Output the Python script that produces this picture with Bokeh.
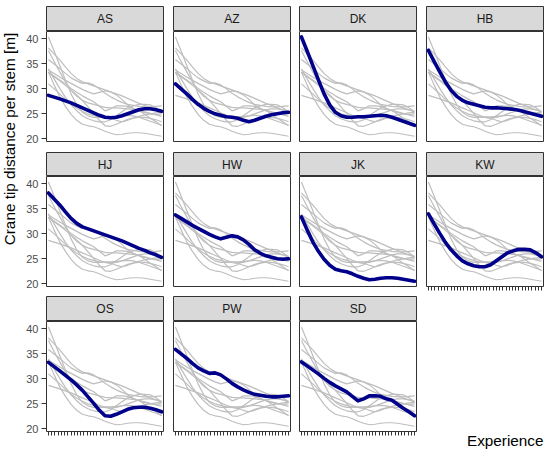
import math
from bokeh.plotting import figure
from bokeh.layouts import row, column
from bokeh.models import Range1d, FixedTicker, Label, CustomJSTickFormatter
from bokeh.embed import file_html
from bokeh.resources import INLINE

# ---- data ----
experience = [1, 2.75, 4.5, 6.25, 8, 9.75, 11.5, 13.25, 15, 16.75, 18.5,
              20.25, 22, 23.75, 25.5, 27.25, 29, 30.75, 32.5, 34.25, 36]
operators = ["AS", "AZ", "DK", "HB", "HJ", "HW", "JK", "KW", "OS", "PW", "SD"]

as_vals = [28.7, 28.35, 28.0, 27.6, 27.2, 26.7, 26.2, 25.7, 25.2, 24.7, 24.3,
           24.2, 24.3, 24.6, 25.0, 25.4, 25.8, 26.0, 26.0, 25.8, 25.5]
az_vals = [31.0, 30.0, 29.0, 27.9, 26.9, 26.1, 25.5, 25.0, 24.7, 24.4, 24.3,
           24.1, 23.7, 23.4, 23.7, 24.1, 24.5, 24.8, 25.0, 25.2, 25.3]
dk_vals = [40.4, 37.6, 34.7, 31.8, 29.0, 26.8, 25.3, 24.6, 24.3, 24.3, 24.4,
           24.4, 24.5, 24.6, 24.7, 24.6, 24.3, 23.9, 23.5, 23.1, 22.7]
hb_vals = [37.7, 35.5, 33.4, 31.4, 29.7, 28.5, 27.7, 27.2, 26.9, 26.6, 26.3,
           26.2, 26.2, 26.1, 26.0, 25.9, 25.7, 25.4, 25.1, 24.8, 24.5]
hj_vals = [38.2, 37.0, 35.8, 34.4, 33.1, 32.1, 31.4, 31.0, 30.6, 30.2, 29.8,
           29.4, 29.0, 28.6, 28.1, 27.6, 27.1, 26.7, 26.2, 25.8, 25.3]
hw_vals = [33.8, 33.1, 32.4, 31.7, 31.1, 30.5, 29.9, 29.4, 29.0, 29.3, 29.6,
           29.4, 28.8, 27.9, 26.8, 26.1, 25.6, 25.3, 25.0, 24.9, 25.0]
jk_vals = [33.4, 30.8, 28.4, 26.5, 24.9, 23.7, 22.9, 22.6, 22.4, 22.0, 21.5,
           21.1, 20.8, 20.9, 21.1, 21.2, 21.2, 21.1, 20.9, 20.7, 20.5]
kw_vals = [34.0, 32.0, 30.1, 28.3, 26.8, 25.6, 24.6, 24.0, 23.6, 23.4, 23.4,
           23.8, 24.6, 25.4, 26.2, 26.6, 26.9, 26.9, 26.8, 26.2, 25.4]
os_vals = [33.3, 32.45, 31.6, 30.7, 29.8, 28.8, 27.7, 26.4, 25.1, 23.7, 22.6,
           22.5, 22.9, 23.4, 23.9, 24.2, 24.3, 24.3, 24.1, 23.8, 23.4]
pw_vals = [35.9, 35.0, 34.1, 33.1, 32.2, 31.6, 31.1, 31.2, 30.8, 30.0, 29.1,
           28.4, 27.8, 27.3, 26.9, 26.7, 26.5, 26.4, 26.4, 26.5, 26.6]
sd_vals = [33.4, 32.6, 31.8, 31.0, 30.1, 29.3, 28.6, 28.0, 27.4, 26.5, 25.6,
           26.0, 26.6, 26.6, 26.5, 26.0, 25.7, 24.9, 24.1, 23.4, 22.6]

series = dict(zip(operators, [as_vals, az_vals, dk_vals, hb_vals, hj_vals, hw_vals,
                              jk_vals, kw_vals, os_vals, pw_vals, sd_vals]))
x_ticks = list(range(1, 37))
y_ticks = [20, 25, 30, 35, 40]
y_title = "Crane tip distance per stem [m]"
x_title = "Experience"

# ---- style / layout ----
FONT = "Liberation Sans"
ytitle_w = 22
col_left = [24, 0, 0, 0]
col_right = [10, 9, 10, 6]
frame_w = 117
strip_h = [25, 24, 25]
strip_top = [6, 0, 0]
frame_h = 110
row_bottom = [11, 10, 26]
ncols = 4


def base_fig(w, h, **kw):
    return figure(width=w, height=h, tools="", toolbar_location=None,
                  output_backend="svg", **kw)


def make_strip(name, r, c):
    w = col_left[c] + frame_w + col_right[c]
    s = base_fig(w, strip_h[r] + strip_top[r], x_range=Range1d(0, 1), y_range=Range1d(0, 1),
                 x_axis_location=None, y_axis_location=None,
                 min_border_left=col_left[c], min_border_right=col_right[c],
                 min_border_top=strip_top[r], min_border_bottom=0,
                 background_fill_color="#D9D9D9", border_fill_color="white",
                 outline_line_color="#333333", outline_line_width=1)
    s.grid.visible = False
    s.add_layout(Label(x=0.5, y=0.5, text=name, text_align="center",
                       text_baseline="middle", text_font=FONT,
                       text_font_size="12px", text_color="#1A1A1A"))
    return s


def make_panel(name, r, c, show_x):
    w = col_left[c] + frame_w + col_right[c]
    p = base_fig(w, frame_h + row_bottom[r],
                 x_range=Range1d(0.4, 36.6), y_range=Range1d(19.45, 41.5),
                 x_axis_location="below" if show_x else None,
                 y_axis_location="left" if c == 0 else None,
                 min_border_left=col_left[c], min_border_right=col_right[c],
                 min_border_top=0, min_border_bottom=row_bottom[r],
                 background_fill_color="white", border_fill_color="white",
                 outline_line_color="#333333", outline_line_width=1)
    p.grid.visible = False
    for op in operators:
        p.line(experience, series[op], line_color="#BEBEBE", line_width=1.2,
               line_join="round")
    p.line(experience, series[name], line_color="#00008B", line_width=3.6,
           line_join="round", line_cap="round")
    if show_x:
        ax = p.xaxis[0]
        ax.ticker = FixedTicker(ticks=x_ticks, minor_ticks=[])
        ax.formatter = CustomJSTickFormatter(code="return ''")
        ax.major_label_text_font_size = "1px"
        ax.major_label_standoff = 0
        ax.major_tick_out = 4
        ax.major_tick_in = 0
        ax.major_tick_line_color = "#333333"
        ax.minor_tick_line_color = None
        ax.axis_line_color = None
    if c == 0:
        ay = p.yaxis[0]
        ay.ticker = FixedTicker(ticks=y_ticks, minor_ticks=[])
        ay.major_label_text_font = FONT
        ay.major_label_text_font_size = "11px"
        ay.major_label_text_color = "#4D4D4D"
        ay.major_label_standoff = 3
        ay.major_tick_out = 5
        ay.major_tick_in = 0
        ay.major_tick_line_color = "#333333"
        ay.minor_tick_line_color = None
        ay.axis_line_color = None
    return p


n = len(operators)
nrows = 3
total_h = sum(strip_h) + sum(strip_top) + nrows * frame_h + sum(row_bottom)

rows = []
for r in range(nrows):
    cells = []
    for c in range(ncols):
        i = r * ncols + c
        if i < n:
            name = operators[i]
            below = i + ncols >= n
            cells.append(column(make_strip(name, r, c), make_panel(name, r, c, below)))
        else:
            w = col_left[c] + frame_w + col_right[c]
            h = strip_top[r] + strip_h[r] + frame_h + row_bottom[r]
            b = base_fig(w, h, x_range=Range1d(0, w), y_range=Range1d(0, h),
                         x_axis_location=None, y_axis_location=None,
                         min_border=0, min_border_left=0, min_border_right=0,
                         min_border_top=0, min_border_bottom=0,
                         outline_line_color=None, background_fill_color="white",
                         border_fill_color="white")
            b.grid.visible = False
            b.add_layout(Label(x=frame_w, y=17, text=x_title, text_align="right",
                               text_baseline="middle", text_font=FONT,
                               text_font_size="15.3px", text_color="black"))
            cells.append(b)
    rows.append(row(cells))

yt = base_fig(ytitle_w, total_h, x_range=Range1d(0, ytitle_w), y_range=Range1d(0, total_h),
              x_axis_location=None, y_axis_location=None,
              min_border=0, min_border_left=0, min_border_right=0,
              min_border_top=0, min_border_bottom=0,
              outline_line_color=None, background_fill_color="white",
              border_fill_color="white")
yt.grid.visible = False
yt.add_layout(Label(x=9, y=total_h - 138.5, text=y_title, angle=math.pi / 2,
                    text_align="center", text_baseline="middle", text_font=FONT,
                    text_font_size="15.3px", text_color="black"))

layout = row(yt, column(rows))

with open("out.html", "w") as f:
    f.write(file_html(layout, INLINE))
